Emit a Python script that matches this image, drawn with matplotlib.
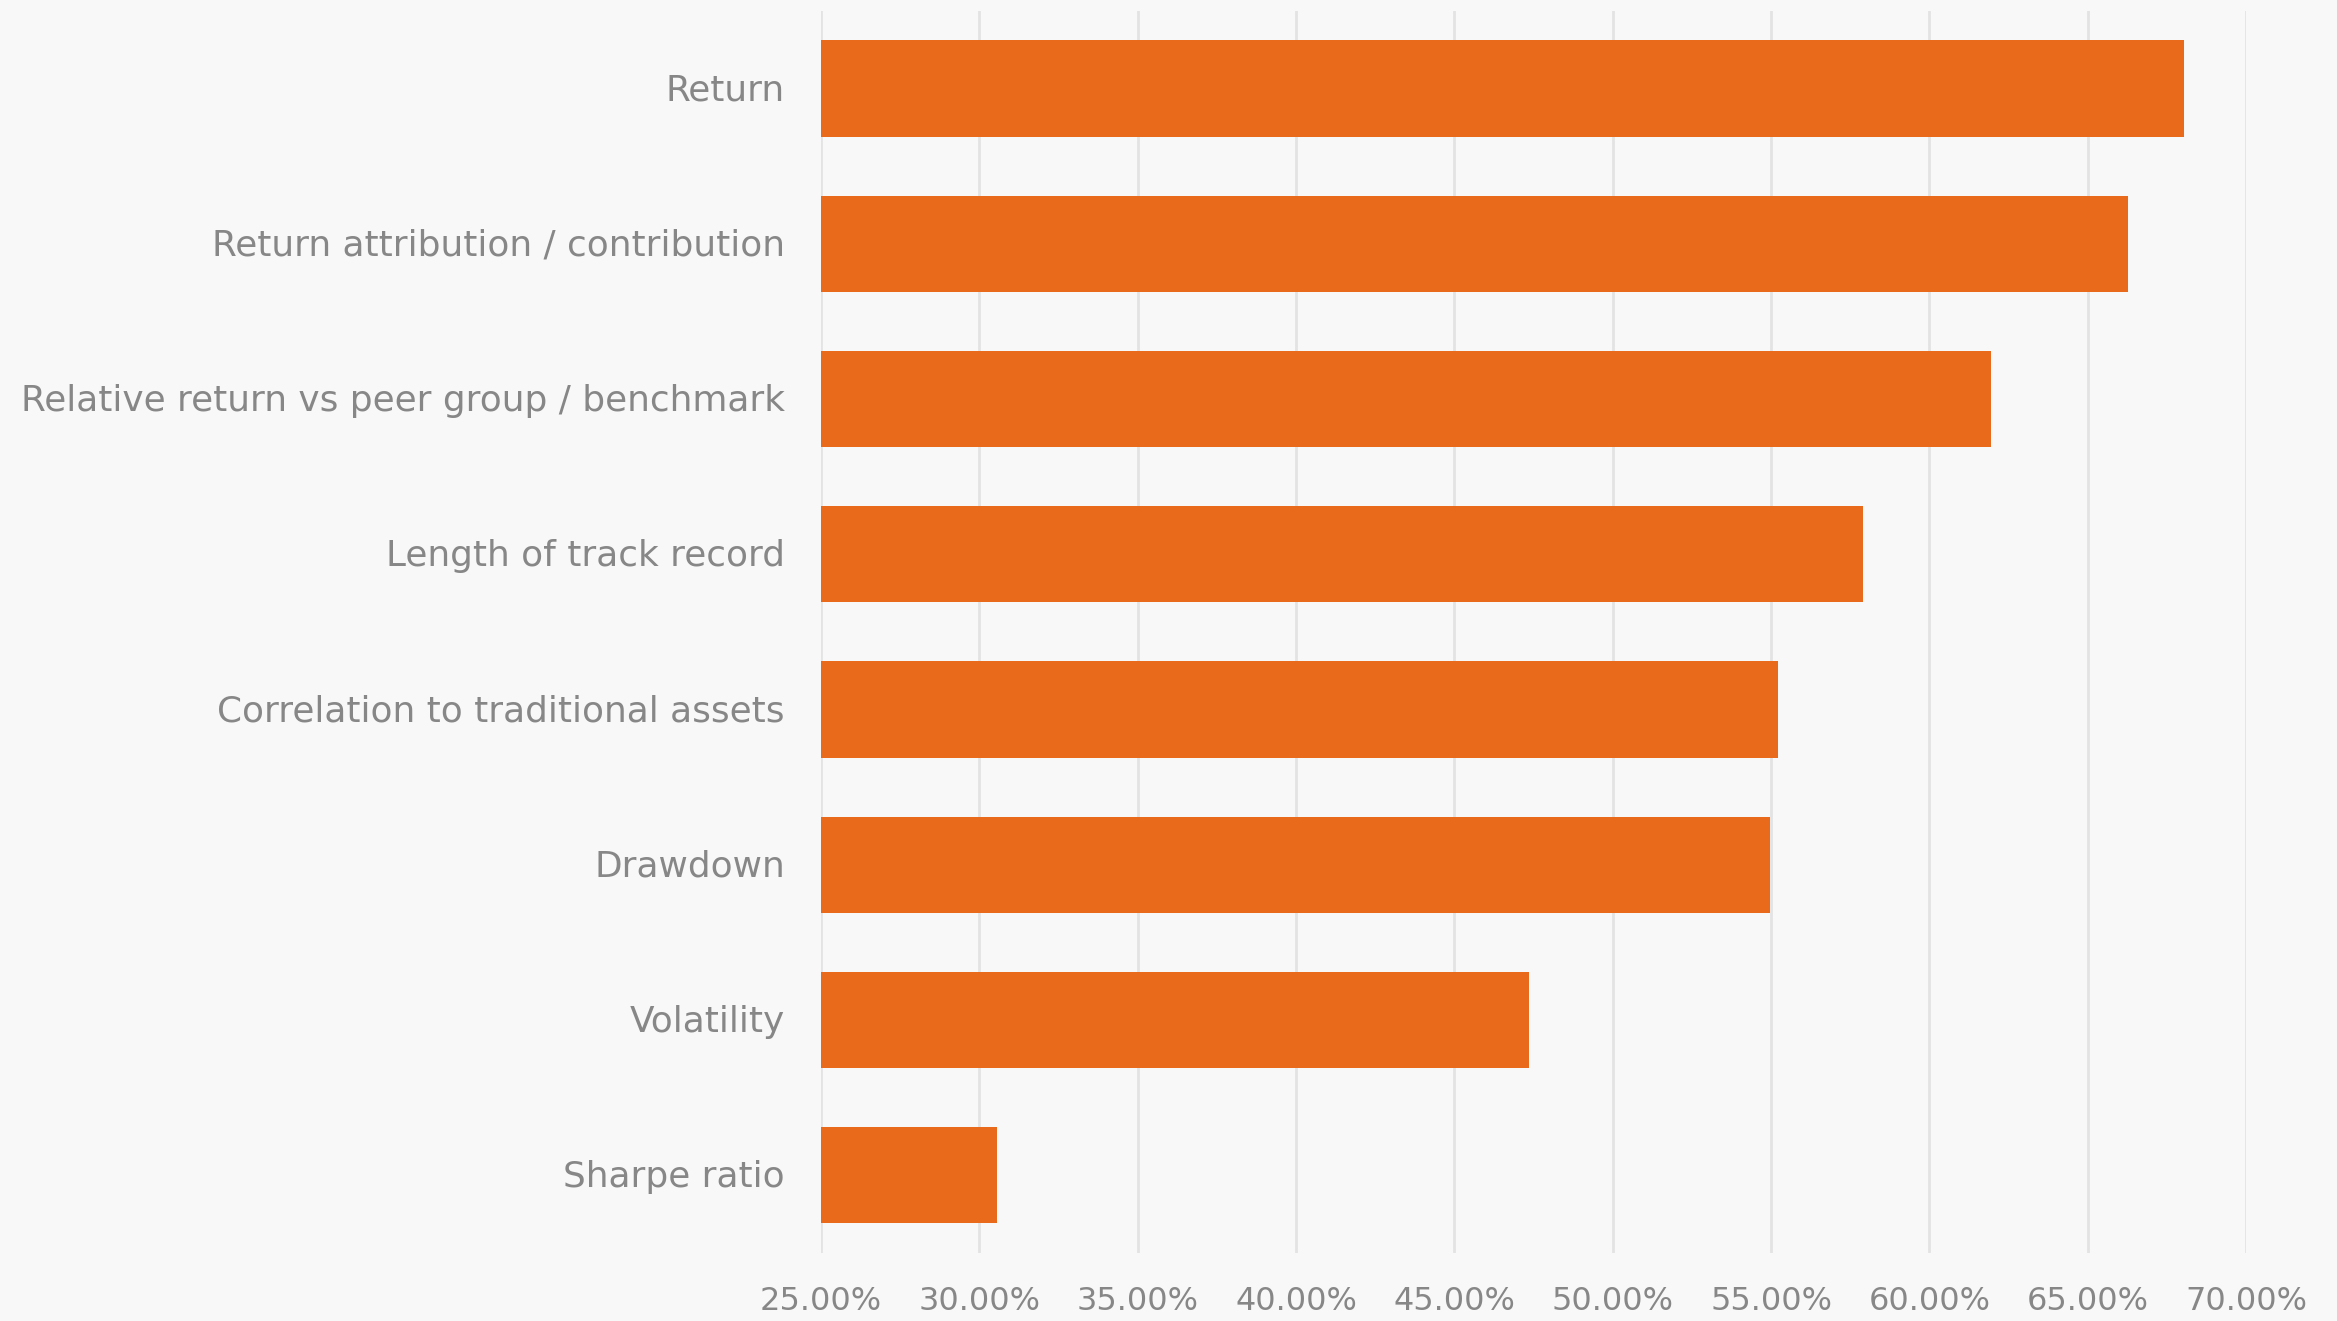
import matplotlib.pyplot as plt
import matplotlib.ticker as mticker
import matplotlib.transforms as mtransforms
import numpy as np

# survey: share of respondents rating each metric as important
metrics = [
    "Return",
    "Return attribution / contribution",
    "Relative return vs peer group / benchmark",
    "Length of track record",
    "Correlation to traditional assets",
    "Drawdown",
    "Volatility",
    "Sharpe ratio",
]
shares = [68.03, 66.27, 61.94, 57.89, 55.23, 54.96, 47.37, 30.57]
xticks = np.arange(25, 71, 5)

bg = "#f8f8f8"
bar_color = "#e86a1a"
text_color = "#878787"

plt.rcParams["font.family"] = ["DejaVu Sans"]

fig = plt.figure(figsize=(23.37, 13.21), dpi=100, facecolor=bg)
ax = fig.add_axes([0.3513, 0.0515, 0.9611 - 0.3513, 0.9917 - 0.0515])
ax.set_facecolor(bg)

y = np.arange(len(metrics))
ax.barh(y, [s - 25 for s in shares], left=25, height=0.62, color=bar_color, zorder=3)

ax.set_ylim(len(metrics) - 0.5, -0.5)
ax.set_xlim(25, 70)
ax.set_yticks(y)
ax.set_yticklabels(metrics)
ax.set_xticks(xticks)
ax.xaxis.set_major_formatter(mticker.FuncFormatter(lambda v, p: f"{v:.2f}%"))

ax.grid(axis="x", color="#e3e3e3", linewidth=2, zorder=0)
for s in ax.spines.values():
    s.set_visible(False)

ax.tick_params(axis="y", length=0, pad=26, labelsize=25.8, labelcolor=text_color)
ax.tick_params(axis="x", length=0, pad=24, labelsize=23, labelcolor=text_color)

# nudge category labels up a little so they sit level with the bars
lift = mtransforms.ScaledTranslation(0, 1.5 / 72, fig.dpi_scale_trans)
for lbl in ax.get_yticklabels():
    lbl.set_transform(lbl.get_transform() + lift)

fig.savefig("out.png", dpi=100, facecolor=bg)
